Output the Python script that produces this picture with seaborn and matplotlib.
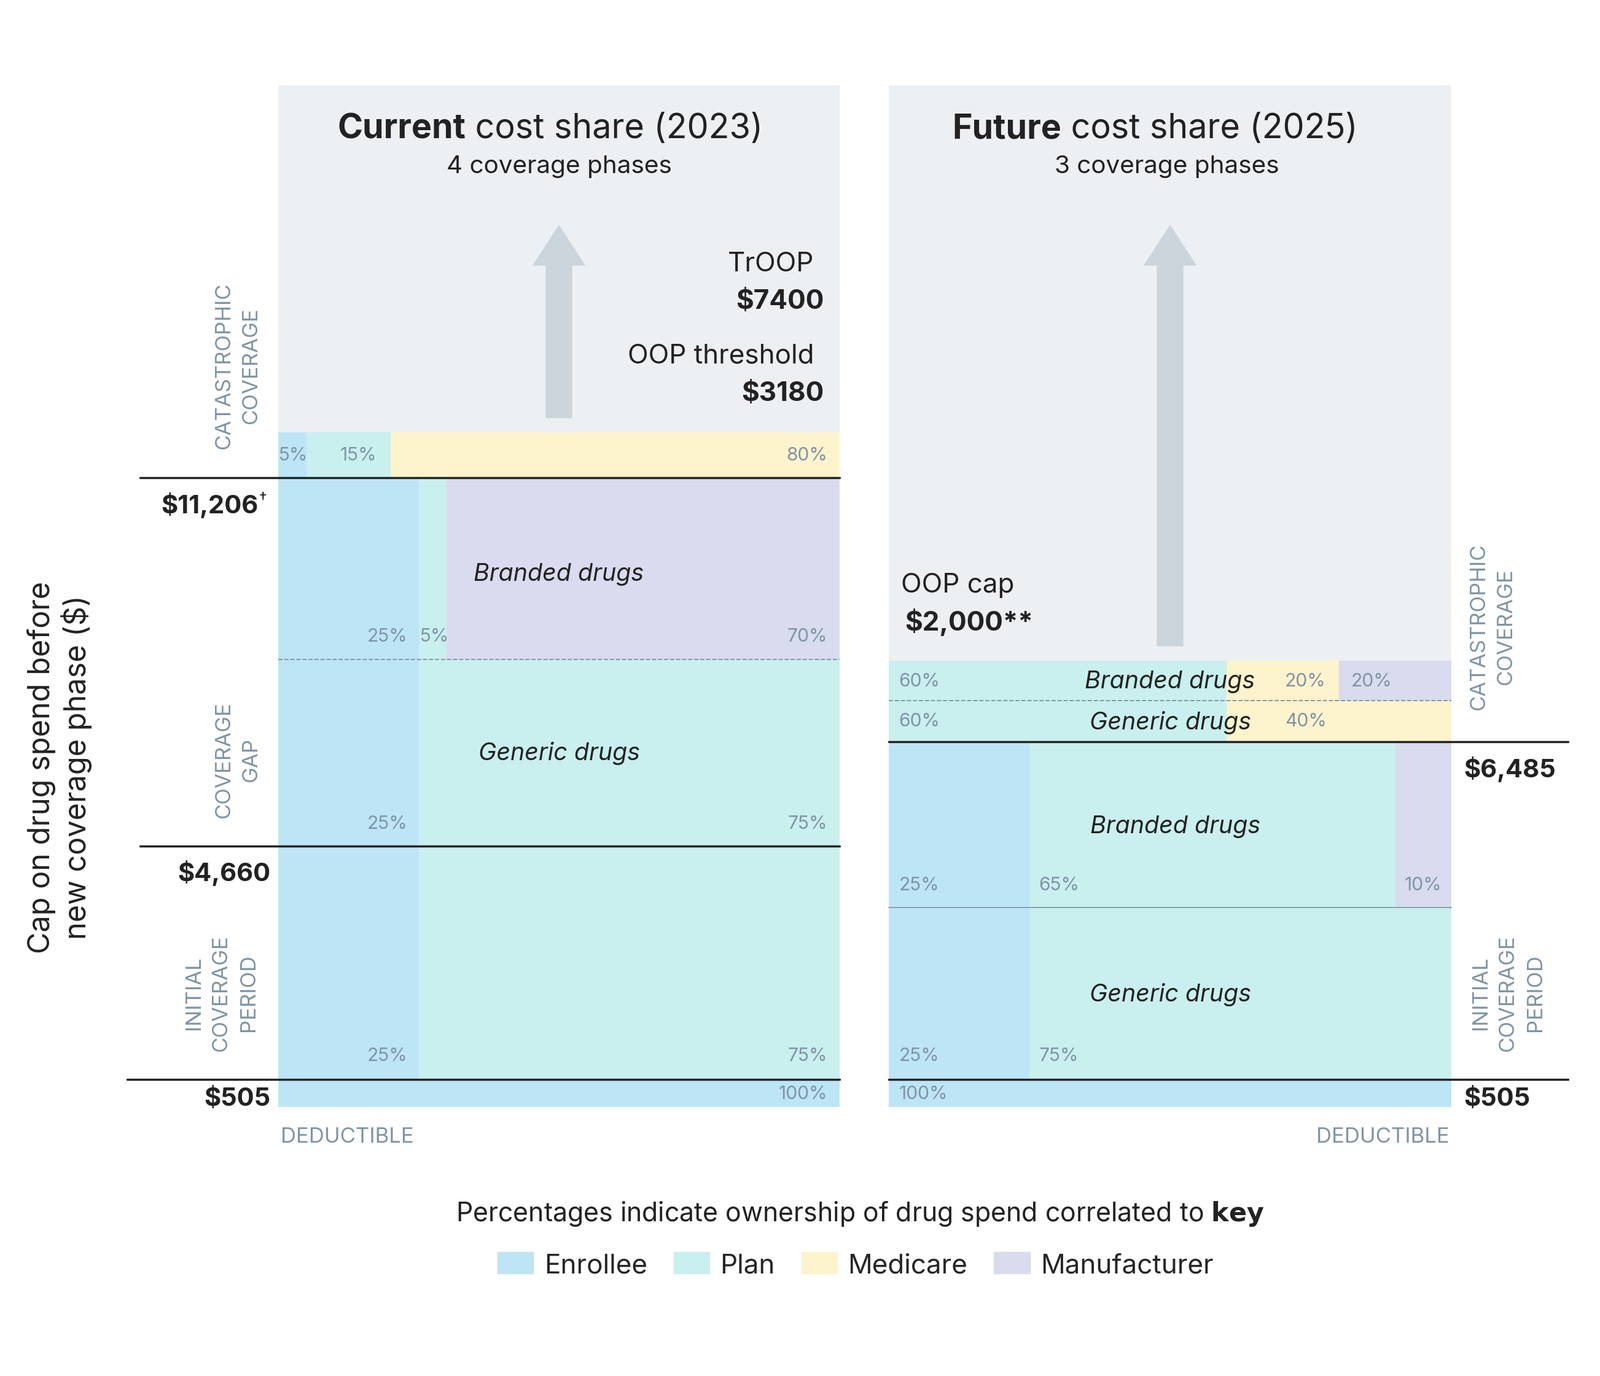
import matplotlib
matplotlib.use("Agg")
import matplotlib.pyplot as plt
import seaborn as sns
import numpy as np
from matplotlib.patches import Rectangle, FancyArrow, Patch

sns.set_theme(style="white")
plt.rcParams["font.family"] = "Inter"

roles = ["Enrollee", "Plan", "Medicare", "Manufacturer"]
colors = dict(zip(roles, ["#bde5f6", "#c9efee", "#fdf3cc", "#d9dbef"]))

# Current (2023) rows: shares per role
cur_cat = [5, 15, 80, 0]
cur_gap_branded = [25, 5, 0, 70]
cur_gap_generic = [25, 75, 0, 0]
cur_initial = [25, 75, 0, 0]
cur_deduct = [100, 0, 0, 0]
# Future (2025) rows
fut_cat_branded = [0, 60, 20, 20]
fut_cat_generic = [0, 60, 40, 0]
fut_init_branded = [25, 65, 0, 10]
fut_init_generic = [25, 75, 0, 0]
fut_deduct = [100, 0, 0, 0]

W, H = 1563, 1345
fig = plt.figure(figsize=(W / 100, H / 100), dpi=166.67)
ax = fig.add_axes([0, 0, 1, 1])
ax.set_xlim(0, W); ax.set_ylim(H, 0); ax.axis("off")

GRAY = "#edf0f3"; PCT = "#7f95a6"; PH = "#7f95a6"; DARK = "#222222"
L0, L1 = 272, 820
R0, R1 = 868, 1418
ax.add_patch(Rectangle((L0, 84), L1 - L0, 1055 - 84, color=GRAY, zorder=0, lw=0))
ax.add_patch(Rectangle((R0, 84), R1 - R0, 1055 - 84, color=GRAY, zorder=0, lw=0))

def row(x0, x1, y0, y1, shares):
    w = np.array(shares, float)
    widths = w / 100 * (x1 - x0)
    lefts = x0 + np.concatenate([[0], np.cumsum(widths)[:-1]])
    for r, l, wd in zip(roles, lefts, widths):
        if wd > 0:
            ax.barh((y0 + y1) / 2, wd, left=l, height=y1 - y0, color=colors[r],
                    linewidth=0, edgecolor="none", zorder=1)

def pct(x, y, s, ha="left"):
    ax.text(x, y, s, color=PCT, fontsize=13, ha=ha, va="center", zorder=3)

IT = dict(fontsize=17, style="italic", ha="center", va="center", color=DARK, zorder=3)

# Left panel
row(L0, L1, 423, 467, cur_cat)
pct(272, 445, "5%"); pct(332, 445, "15%"); pct(808, 445, "80%", "right")
row(L0, L1, 467, 645, cur_gap_branded)
pct(398, 622, "25%", "right"); pct(410, 622, "5%"); pct(808, 622, "70%", "right")
row(L0, L1, 645, 827, cur_gap_generic)
pct(398, 805, "25%", "right"); pct(808, 805, "75%", "right")
row(L0, L1, 827, 1055, cur_initial)
pct(398, 1032, "25%", "right"); pct(808, 1032, "75%", "right")
row(L0, L1, 1055, 1082, cur_deduct)
pct(808, 1069, "100%", "right")
ax.text(546, 561, "Branded drugs", **IT)
ax.text(546, 736, "Generic drugs", **IT)

# Right panel
row(R0, R1, 646, 685, fut_cat_branded)
pct(878, 666, "60%"); pct(1255, 666, "20%"); pct(1320, 666, "20%")
row(R0, R1, 685, 725, fut_cat_generic)
pct(878, 705, "60%"); pct(1255, 705, "40%")
row(R0, R1, 725, 887, fut_init_branded)
pct(878, 865, "25%"); pct(1015, 865, "65%"); pct(1408, 865, "10%", "right")
row(R0, R1, 887, 1055, fut_init_generic)
pct(878, 1032, "25%"); pct(1015, 1032, "75%")
row(R0, R1, 1055, 1082, fut_deduct)
pct(878, 1069, "100%")
ax.text(1143, 666, "Branded drugs", **IT)
ax.text(1143, 706, "Generic drugs", **IT)
ax.text(1148, 808, "Branded drugs", **IT)
ax.text(1143, 972, "Generic drugs", **IT)

# Lines
for y, a, b in [(467, 137, 820), (827, 137, 820), (1055, 124, 820), (725, 868, 1532), (1055, 868, 1532)]:
    ax.plot([a, b], [y, y], color="#222222", lw=1.5, zorder=4)
ax.plot([L0, L1], [645, 645], color="#7f95a6", lw=0.8, ls="--", zorder=4)
ax.plot([R0, R1], [685, 685], color="#7f95a6", lw=0.8, ls="--", zorder=4)
ax.plot([R0, R1], [887, 887], color="#7f95a6", lw=0.7, zorder=4)

# Arrows
for xc, ybot in [(546, 409), (1143, 632)]:
    ax.add_patch(FancyArrow(xc, ybot, 0, 220 - ybot, width=26, head_width=52,
                            head_length=40, length_includes_head=True, color="#cdd5dc", lw=0, zorder=2))

# Titles
for xs, b, r, s, xc in [(455, "Current", " cost share (2023)", "4 coverage phases", 546),
                        (1037, "Future", " cost share (2025)", "3 coverage phases", 1140)]:
    ax.text(xs, 126, b, fontsize=24, weight="bold", ha="right", va="center", color=DARK)
    ax.text(xs, 126, r, fontsize=24, ha="left", va="center", color=DARK)
    ax.text(xc, 163, s, fontsize=17.5, ha="center", va="center", color=DARK)

# Annotations
ax.text(795, 258, "TrOOP", fontsize=19, ha="right", va="center", color=DARK)
ax.text(805, 295, "$7400", fontsize=19, weight="bold", ha="right", va="center", color=DARK)
ax.text(795, 348, "OOP threshold", fontsize=19, ha="right", va="center", color=DARK)
ax.text(805, 385, "$3180", fontsize=19, weight="bold", ha="right", va="center", color=DARK)
ax.text(880, 572, "OOP cap", fontsize=19, ha="left", va="center", color=DARK)
ax.text(884, 608, "$2,000**", fontsize=19, weight="bold", ha="left", va="center", color=DARK)

# Dollar labels
ax.text(252, 494, "$11,206", fontsize=18, weight="bold", ha="right", va="center", color=DARK)
ax.text(253, 487, "†", fontsize=11, ha="left", va="center", color=DARK)
ax.text(264, 853, "$4,660", fontsize=18, weight="bold", ha="right", va="center", color=DARK)
ax.text(264, 1074, "$505", fontsize=18, weight="bold", ha="right", va="center", color=DARK)
ax.text(1430, 752, "$6,485", fontsize=18, weight="bold", ha="left", va="center", color=DARK)
ax.text(1430, 1074, "$505", fontsize=18, weight="bold", ha="left", va="center", color=DARK)

# Phase labels
PHK = dict(fontsize=15, color=PH, rotation=90, ha="center", va="center", linespacing=1.5)
ax.text(232, 357, "CATASTROPHIC\nCOVERAGE", **PHK)
ax.text(232, 742, "COVERAGE\nGAP", **PHK)
ax.text(216, 970, "INITIAL\nCOVERAGE\nPERIOD", **PHK)
ax.text(1458, 612, "CATASTROPHIC\nCOVERAGE", **PHK)
ax.text(1473, 970, "INITIAL\nCOVERAGE\nPERIOD", **PHK)
ax.text(274, 1111, "DEDUCTIBLE", fontsize=15, color=PH, ha="left", va="center")
ax.text(1416, 1111, "DEDUCTIBLE", fontsize=15, color=PH, ha="right", va="center")

ax.text(58, 750, "Cap on drug spend before\nnew coverage phase ($)", fontsize=21, rotation=90,
        ha="center", va="center", color=DARK, linespacing=1.2)

ax.text(840, 1186, "Percentages indicate ownership of drug spend correlated to $\\bf{key}$",
        fontsize=18.5, ha="center", va="center", color=DARK)
handles = [Patch(color=colors[r], label=r) for r in roles]
fig.legend(handles=handles, loc="center", bbox_to_anchor=(836 / W, 1 - 1237 / H), ncol=4,
           frameon=False, fontsize=19, handlelength=1.3, handleheight=0.8, columnspacing=1.0, handletextpad=0.4)

fig.savefig("out.png", dpi=166.67)
